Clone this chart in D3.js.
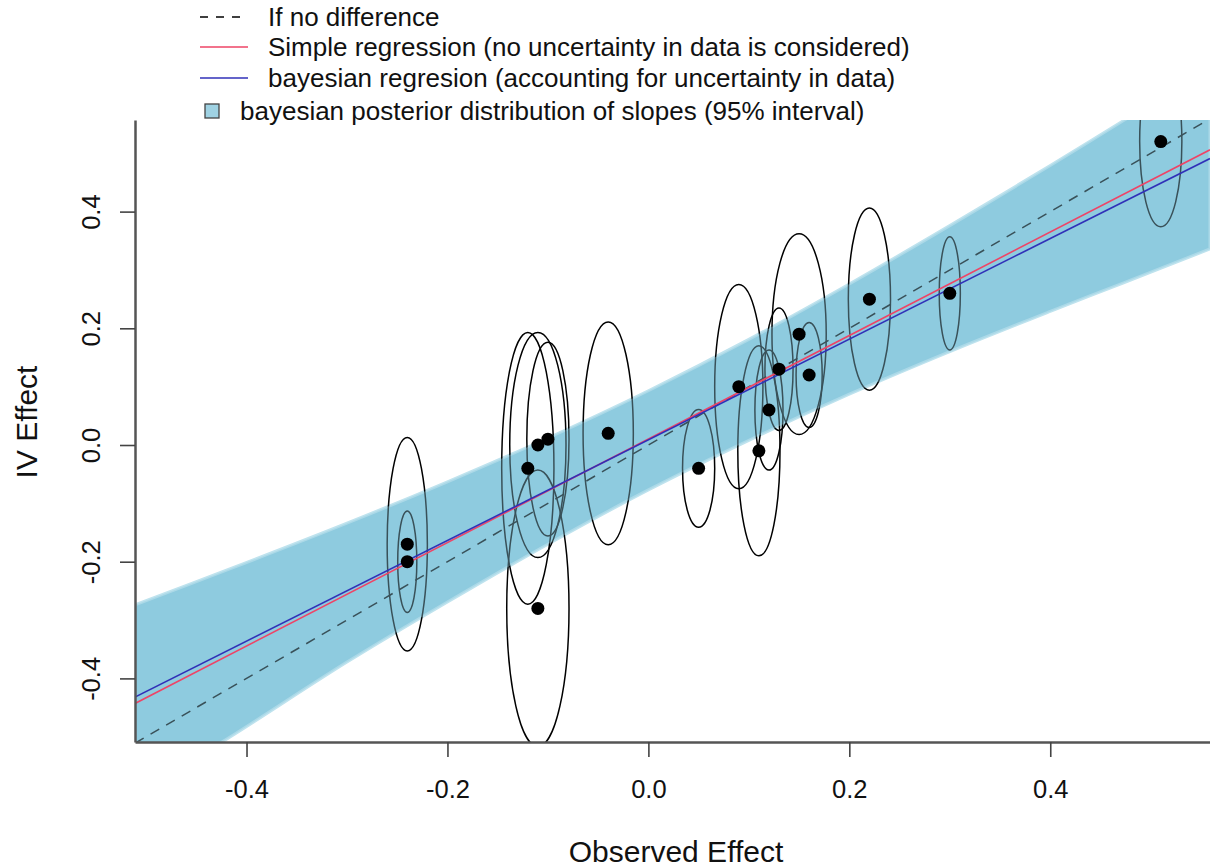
<!DOCTYPE html>
<html lang="en">
<head>
    <meta charset="UTF-8">
    <title>IV Effect vs Observed Effect</title>
    <script src="https://d3js.org/d3.v7.min.js"></script>
    <style>
        body {
            margin: 0;
            background: #ffffff;
            font-family: "Liberation Sans", Arial, Helvetica, sans-serif;
        }
        text {
            fill: #111;
        }
    </style>
</head>
<body>
    <div id="chart"></div>
    <script>
        // observed effect (x), IV effect (y) and the half widths of their uncertainty ellipses
        const observed = [-0.24, -0.24, -0.12, -0.11, -0.10, -0.11, -0.04, 0.05, 0.09, 0.11, 0.12, 0.13, 0.15, 0.16, 0.22, 0.30, 0.51];
        const ivEffect = [-0.17, -0.20, -0.04, 0.00, 0.01, -0.28, 0.02, -0.04, 0.10, -0.01, 0.06, 0.13, 0.19, 0.12, 0.25, 0.26, 0.52];
        const observedHalf = [0.020, 0.0095, 0.026, 0.028, 0.021, 0.031, 0.025, 0.016, 0.024, 0.021, 0.014, 0.014, 0.027, 0.013, 0.021, 0.0105, 0.021];
        const ivHalf = [0.183, 0.087, 0.233, 0.193, 0.166, 0.237, 0.191, 0.101, 0.175, 0.180, 0.103, 0.105, 0.172, 0.090, 0.156, 0.097, 0.146];

        // 95% band of posterior slopes, read at a few x positions
        const bandX = [-0.511, -0.416, -0.3, -0.2, -0.1, 0.0, 0.1, 0.2, 0.3, 0.4, 0.473, 0.559];
        const bandUpper = [-0.274, -0.212, -0.134, -0.063, 0.012, 0.093, 0.181, 0.276, 0.376, 0.479, 0.556, 0.648];
        const bandLower = [-0.600, -0.500, -0.372, -0.269, -0.170, -0.077, 0.008, 0.087, 0.160, 0.229, 0.278, 0.336];

        // fitted lines, end points
        const lineX = [-0.511, 0.559];
        const simpleY = [-0.443, 0.506];
        const bayesY = [-0.432, 0.491];
        const identityY = [-0.511, 0.559];

        const ticks = [-0.4, -0.2, 0.0, 0.2, 0.4];
        const tickLabels = ["-0.4", "-0.2", "0.0", "0.2", "0.4"];

        const legendLabels = [
            "If no difference",
            "Simple regression (no uncertainty in data is considered)",
            "bayesian regresion (accounting for uncertainty in data)",
            "bayesian posterior distribution of slopes (95% interval)"
        ];

        const width = 1210;
        const height = 868;
        const plot = { left: 135, right: 1210, top: 120, bottom: 742 };
        const bandColor = "#8ecbdf";

        const svg = d3.select("#chart")
            .append("svg")
            .attr("width", width)
            .attr("height", height);

        const x = d3.scaleLinear().domain([-0.511, 0.559]).range([plot.left, plot.right]);
        const y = d3.scaleLinear().domain([-0.509, 0.557]).range([plot.bottom, plot.top]);

        svg.append("clipPath")
            .attr("id", "plot-clip")
            .append("rect")
            .attr("x", plot.left)
            .attr("y", plot.top)
            .attr("width", plot.right - plot.left)
            .attr("height", plot.bottom - plot.top);

        const g = svg.append("g").attr("clip-path", "url(#plot-clip)");

        const bandData = bandX.map((v, i) => ({ x: v, lo: bandLower[i], hi: bandUpper[i] }));
        const band = d3.area()
            .x(d => x(d.x))
            .y0(d => y(d.lo))
            .y1(d => y(d.hi))
            .curve(d3.curveCatmullRom);

        g.append("path")
            .attr("d", band(bandData))
            .attr("fill", bandColor)
            .attr("stroke", "#bfe3ee")
            .attr("stroke-width", 3);

        const pts = observed.map((v, i) => ({ x: v, y: ivEffect[i], rx: observedHalf[i], ry: ivHalf[i] }));

        g.selectAll("ellipse")
            .data(pts)
            .enter()
            .append("ellipse")
            .attr("cx", d => x(d.x))
            .attr("cy", d => y(d.y))
            .attr("rx", d => x(d.x + d.rx) - x(d.x))
            .attr("ry", d => y(d.y) - y(d.y + d.ry))
            .attr("fill", "none")
            .attr("stroke", "#000")
            .attr("stroke-width", 1.5);

        const line = d3.line().x(d => x(d[0])).y(d => y(d[1]));

        g.append("path")
            .attr("d", line(lineX.map((v, i) => [v, identityY[i]])))
            .attr("stroke", "#000")
            .attr("stroke-width", 1.5)
            .attr("stroke-dasharray", "10,8")
            .attr("fill", "none");

        // band again, thin, so the outlines under it take its tint
        g.append("path")
            .attr("d", band(bandData))
            .attr("fill", bandColor)
            .attr("opacity", 0.4);

        g.append("path")
            .attr("d", line(lineX.map((v, i) => [v, simpleY[i]])))
            .attr("stroke", "#ee4466")
            .attr("stroke-width", 1.6)
            .attr("fill", "none");

        g.append("path")
            .attr("d", line(lineX.map((v, i) => [v, bayesY[i]])))
            .attr("stroke", "#3030b8")
            .attr("stroke-width", 1.6)
            .attr("fill", "none");

        g.selectAll("circle")
            .data(pts)
            .enter()
            .append("circle")
            .attr("cx", d => x(d.x))
            .attr("cy", d => y(d.y))
            .attr("r", 6.5)
            .attr("fill", "#000");

        // axes
        const xAxis = d3.axisBottom(x)
            .tickValues(ticks)
            .tickFormat((d, i) => tickLabels[i])
            .tickSize(15)
            .tickSizeOuter(0);

        const yAxis = d3.axisLeft(y)
            .tickValues(ticks)
            .tickFormat((d, i) => tickLabels[i])
            .tickSize(15)
            .tickSizeOuter(0);

        const gx = svg.append("g")
            .attr("transform", `translate(0, ${plot.bottom})`)
            .call(xAxis);

        const gy = svg.append("g")
            .attr("transform", `translate(${plot.left}, 0)`)
            .call(yAxis);

        [gx, gy].forEach(a => {
            a.select(".domain").attr("stroke", "#555").attr("stroke-width", 2.5);
            a.selectAll(".tick line").attr("stroke", "#444").attr("stroke-width", 1.6);
            a.selectAll(".tick text")
                .attr("fill", "#111")
                .style("font-size", "25.5px")
                .style("font-family", "'Liberation Sans', Arial, sans-serif");
        });

        gx.selectAll(".tick text").attr("y", 56).attr("dy", null);

        gy.selectAll(".tick text")
            .attr("transform", "rotate(-90)")
            .attr("x", 0)
            .attr("y", -35)
            .attr("dy", null)
            .attr("text-anchor", "middle");

        svg.append("text")
            .attr("x", 676)
            .attr("y", 862)
            .attr("text-anchor", "middle")
            .style("font-size", "30px")
            .text("Observed Effect");

        svg.append("text")
            .attr("transform", "translate(37, 422) rotate(-90)")
            .attr("text-anchor", "middle")
            .style("font-size", "30px")
            .text("IV Effect");

        // legend
        const rowY = [17, 47, 78, 111];
        const legend = svg.append("g");

        legend.append("line")
            .attr("x1", 200).attr("x2", 246)
            .attr("y1", rowY[0]).attr("y2", rowY[0])
            .attr("stroke", "#000").attr("stroke-width", 1.4)
            .attr("stroke-dasharray", "8,8");

        legend.append("line")
            .attr("x1", 200).attr("x2", 248)
            .attr("y1", rowY[1]).attr("y2", rowY[1])
            .attr("stroke", "#ee4466").attr("stroke-width", 1.6);

        legend.append("line")
            .attr("x1", 200).attr("x2", 248)
            .attr("y1", rowY[2]).attr("y2", rowY[2])
            .attr("stroke", "#3030b8").attr("stroke-width", 1.6);

        legend.append("rect")
            .attr("x", 205).attr("y", rowY[3] - 7)
            .attr("width", 14).attr("height", 14)
            .attr("fill", "#9fd2e3")
            .attr("stroke", "#444").attr("stroke-width", 1.3);

        legend.selectAll("text")
            .data(legendLabels)
            .enter()
            .append("text")
            .attr("x", (d, i) => i === 3 ? 240 : 268)
            .attr("y", (d, i) => rowY[i])
            .attr("dominant-baseline", "central")
            .style("font-size", "26px")
            .text(d => d);
    </script>
</body>
</html>
